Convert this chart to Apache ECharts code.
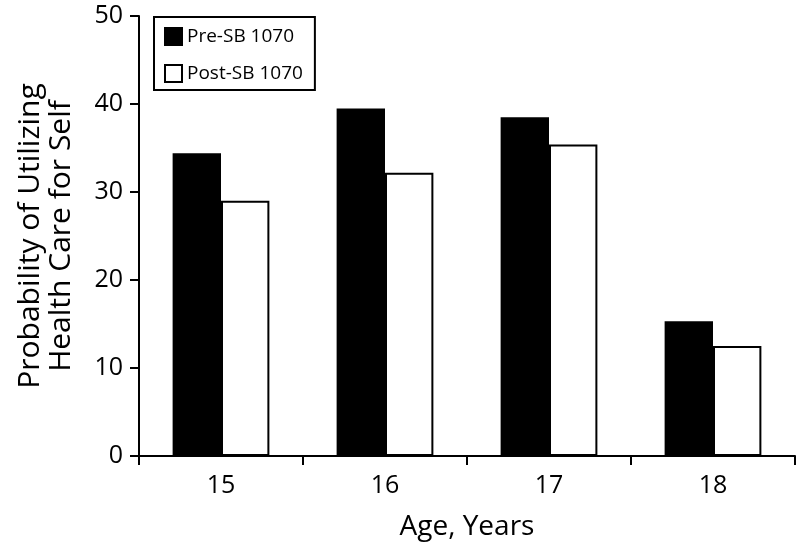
<!DOCTYPE html>
<html><head><meta charset="utf-8">
<script src="https://cdn.jsdelivr.net/npm/echarts@6/dist/echarts.min.js"></script>
<style>html,body{margin:0;padding:0;background:#fff}#c{width:798px;height:546px}</style>
</head><body><div id="c"></div>
<script>
const categories = ['15', '16', '17', '18'];
const preSB = [34.4, 39.5, 38.5, 15.3];
const postSB = [29.0, 32.2, 35.4, 12.5];
const yTicks = [0, 10, 20, 30, 40, 50];

const FONT = 'Open Sans';
const chart = echarts.init(document.getElementById('c'));
chart.setOption({
  animation: false,
  backgroundColor: '#fff',
  textStyle: { fontFamily: FONT, color: '#000' },
  grid: { left: 139, right: 3, top: 16, bottom: 90, containLabel: false, outerBoundsMode: 'none' },
  legend: {
    orient: 'vertical',
    left: 154, top: 17,
    padding: [10, 12, 7, 10],
    itemGap: 18,
    itemWidth: 17, itemHeight: 17,
    borderColor: '#000', borderWidth: 2,
    icon: 'rect',
    textStyle: { fontFamily: FONT, fontSize: 19, color: '#000' },
    data: ['Pre-SB 1070', 'Post-SB 1070']
  },
  xAxis: {
    type: 'category',
    data: categories,
    name: 'Age, Years', nameLocation: 'middle', nameGap: 57,
    nameTextStyle: { fontFamily: FONT, fontSize: 28, color: '#000' },
    axisLine: { lineStyle: { color: '#000', width: 2 } },
    axisTick: { show: true, length: 9, lineStyle: { color: '#000', width: 2 } },
    axisLabel: { fontFamily: FONT, fontSize: 25, color: '#000', margin: 17 }
  },
  yAxis: {
    type: 'value', min: 0, max: 50, interval: 10,
    name: 'Probability of Utilizing\nHealth Care for Self',
    nameLocation: 'middle', nameGap: 62, nameRotate: 90,
    nameTextStyle: { fontFamily: FONT, fontSize: 30, color: '#000', lineHeight: 31 },
    splitLine: { show: false },
    axisLine: { show: true, lineStyle: { color: '#000', width: 2 } },
    axisTick: { show: true, length: 9, lineStyle: { color: '#000', width: 2 } },
    axisLabel: { fontFamily: FONT, fontSize: 25, color: '#000', margin: 16,
      formatter: v => yTicks.includes(v) ? String(v) : '' }
  },
  series: [
    { name: 'Pre-SB 1070', type: 'bar', data: preSB, barGap: '0%', barCategoryGap: '41%',
      itemStyle: { color: '#000', borderColor: '#000', borderWidth: 2 } },
    { name: 'Post-SB 1070', type: 'bar', data: postSB,
      itemStyle: { color: '#fff', borderColor: '#000', borderWidth: 2 } }
  ]
});
</script></body></html>
